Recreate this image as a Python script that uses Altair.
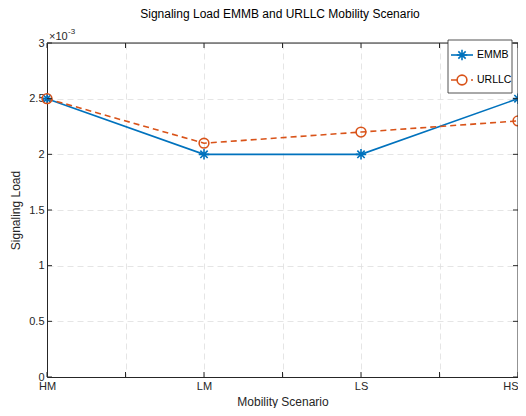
import json
import altair as alt
import pandas as pd

# ---- data ----
scenarios = ["HM", "LM", "LS", "HS"]
positions = [1, 2, 3, 4]
emmb = [2.5e-3, 2.0e-3, 2.0e-3, 2.5e-3]
urllc = [2.5e-3, 2.1e-3, 2.2e-3, 2.3e-3]
series_names = ["EMMB", "URLLC"]
series_colors = ["#0072BD", "#D95319"]
x_ticks = [1, 1.5, 2, 2.5, 3, 3.5, 4]
y_ticks = [0, 0.0005, 0.001, 0.0015, 0.002, 0.0025, 0.003]
title_text = "Signaling Load EMMB and URLLC Mobility Scenario"

W, H = 471, 334
FONT = "Liberation Sans"
AX = "#262626"

df = pd.DataFrame({
    "pos": positions * 2,
    "scenario": scenarios * 2,
    "load": emmb + urllc,
    "series": [series_names[0]] * 4 + [series_names[1]] * 4,
})
xt = pd.DataFrame({"pos": x_ticks})
yt = pd.DataFrame({"load": y_ticks})
one = pd.DataFrame({"a": [0]})

xs = alt.Scale(domain=[1, 4], nice=False, zero=False)
ys = alt.Scale(domain=[0, 0.003], nice=False)

star = "M-1,0L1,0M0,-1L0,1M-0.7,-0.7L0.7,0.7M-0.7,0.7L0.7,-0.7"

x_label_expr = "datum.value % 1 == 0 ? " + json.dumps(scenarios) + "[datum.value - 1] : ''"

x_axis = alt.Axis(
    values=x_ticks, labelExpr=x_label_expr, grid=True, gridDash=[6, 4],
    gridColor="#dedede", gridWidth=0.8, ticks=False, domainColor=AX, domainWidth=1,
    labelFont=FONT, labelFontSize=11, labelColor=AX, labelPadding=3, labelFlush=False,
    labelAlign={"condition": {"test": f"datum.value == {positions[-1]}", "value": "right"},
                "value": "center"},
    title="Mobility Scenario", titleFont=FONT, titleFontSize=12,
    titleFontWeight="normal", titleColor=AX, titlePadding=5,
)
y_axis = alt.Axis(
    values=y_ticks, labelExpr="format(datum.value * 1000, '.1~f')", grid=True,
    gridDash=[6, 4], gridColor="#dedede", gridWidth=0.8, ticks=False,
    domainColor=AX, domainWidth=1, labelFont=FONT, labelFontSize=11,
    labelColor=AX, labelPadding=3, labelFlush=False, title="Signaling Load", titleFont=FONT,
    titleFontSize=12, titleFontWeight="normal", titleColor=AX, titlePadding=6,
)

X = alt.X("pos:Q", scale=xs, axis=x_axis)
Y = alt.Y("load:Q", scale=ys, axis=y_axis)

layers = []

# data lines and markers
for i, name in enumerate(series_names):
    d = df[df["series"] == name]
    line_kw = dict(color=series_colors[i], strokeWidth=1.6)
    if i == 1:
        line_kw["strokeDash"] = [6, 4]
    layers.append(alt.Chart(d).mark_line(**line_kw).encode(x=X, y=Y))
for i, name in enumerate(series_names):
    d = df[df["series"] == name]
    if i == 0:
        pt = alt.Chart(d).mark_point(shape=star, size=110, filled=False,
                                     stroke=series_colors[i], strokeWidth=1.6, opacity=1)
    else:
        pt = alt.Chart(d).mark_point(shape="circle", size=95, filled=False,
                                     stroke=series_colors[i], strokeWidth=1.6, opacity=1)
    layers.append(pt.encode(x=X, y=Y))

# box lines (top / right)
layers.append(alt.Chart(one).mark_rule(color=AX, strokeWidth=1).encode(
    x=alt.value(0), x2=alt.value(W), y=alt.value(0)))
layers.append(alt.Chart(one).mark_rule(color=AX, strokeWidth=1).encode(
    x=alt.value(W), y=alt.value(0), y2=alt.value(H)))

# inward ticks
TL = 5
layers.append(alt.Chart(xt).mark_rule(color=AX, strokeWidth=1).encode(
    x=X, y=alt.value(H), y2=alt.value(H - TL)))
layers.append(alt.Chart(xt).mark_rule(color=AX, strokeWidth=1).encode(
    x=X, y=alt.value(0), y2=alt.value(TL)))
layers.append(alt.Chart(yt).mark_rule(color=AX, strokeWidth=1).encode(
    y=Y, x=alt.value(0), x2=alt.value(TL)))
layers.append(alt.Chart(yt).mark_rule(color=AX, strokeWidth=1).encode(
    y=Y, x=alt.value(W), x2=alt.value(W - TL)))

# exponent label
layers.append(alt.Chart(one).mark_text(text="×10", font=FONT, fontSize=11, color=AX,
                                       align="left", baseline="alphabetic").encode(
    x=alt.value(2), y=alt.value(-3)))
layers.append(alt.Chart(one).mark_text(text="-3", font=FONT, fontSize=8, color=AX,
                                       align="left", baseline="alphabetic").encode(
    x=alt.value(21), y=alt.value(-9)))

# title
layers.append(alt.Chart(one).mark_text(text=title_text, font=FONT, fontSize=12, color="#000000",
                                       align="center", baseline="alphabetic").encode(
    x=alt.value(233), y=alt.value(-25)))

# legend
layers.append(alt.Chart(one).mark_rect(fill="white", stroke=AX, strokeWidth=0.8).encode(
    x=alt.value(401), x2=alt.value(465), y=alt.value(-3), y2=alt.value(50)))
row_y = [12, 37]
for i, name in enumerate(series_names):
    kw = dict(color=series_colors[i], strokeWidth=1.6)
    if i == 1:
        kw["strokeDash"] = [6, 4]
    layers.append(alt.Chart(one).mark_rule(**kw).encode(
        x=alt.value(404), x2=alt.value(426), y=alt.value(row_y[i])))
    if i == 0:
        mk = alt.Chart(one).mark_point(shape=star, size=110, filled=False,
                                       stroke=series_colors[i], strokeWidth=1.6, opacity=1)
    else:
        mk = alt.Chart(one).mark_point(shape="circle", size=95, filled=True,
                                       fill="white", stroke=series_colors[i],
                                       strokeWidth=1.6, opacity=1)
    layers.append(mk.encode(x=alt.value(415), y=alt.value(row_y[i])))
    layers.append(alt.Chart(one).mark_text(text=name, font=FONT, fontSize=10.5, color="#000000",
                                           align="left", baseline="middle").encode(
        x=alt.value(430), y=alt.value(row_y[i])))

chart = alt.layer(*layers).properties(
    width=W, height=H,
    autosize=alt.AutoSizeParams(type="none"),
    padding={"left": 39, "top": 35, "right": 0, "bottom": 31},
).configure_view(stroke=None).configure(background="white")

chart.save("out.html", embed_options={"renderer": "svg", "actions": False})
